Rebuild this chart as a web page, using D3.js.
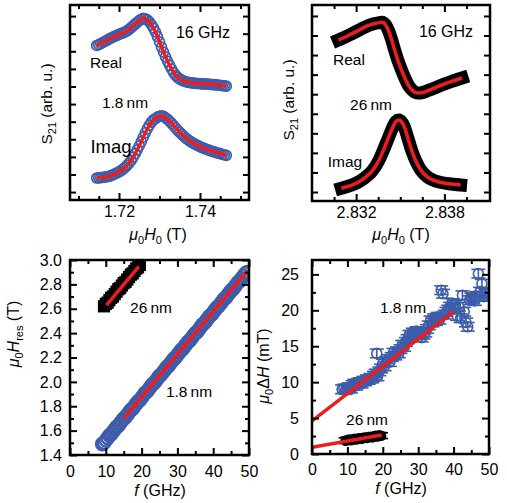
<!DOCTYPE html>
<html>
<head>
<meta charset="utf-8">
<script src="https://cdn.jsdelivr.net/npm/d3@7"></script>
<style>
  body { margin: 0; background: #fff; }
  text { font-family: "Liberation Sans", Arial, Helvetica, sans-serif; fill: #000; }
</style>
</head>
<body>
<svg id="chart" width="507" height="503"></svg>
<script>
// ---- data: top-left, 1.8 nm, S21 vs field at 16 GHz ----
const thinField = [1.7145,1.7150,1.7155,1.7160,1.7165,1.7170,1.7175,1.7180,1.7185,1.7190,
  1.7195,1.7200,1.7205,1.7210,1.7215,1.7220,1.7225,1.7230,1.7235,1.7240,
  1.7245,1.7250,1.7255,1.7260,1.7265,1.7270,1.7275,1.7280,1.7285,1.7290,
  1.7295,1.7300,1.7305,1.7310,1.7315,1.7320,1.7325,1.7330,1.7335,1.7340,
  1.7345,1.7350,1.7355,1.7360,1.7365,1.7370,1.7375,1.7380,1.7385,1.7390,
  1.7395,1.7400,1.7405,1.7410,1.7415,1.7420,1.7425,1.7430,1.7435,1.7440,
  1.7445,1.7450,1.7455,1.7460,1.7465];
const thinReal = [8.33,8.38,8.44,8.50,8.56,8.62,8.69,8.75,8.81,8.86,
  8.91,8.96,9.01,9.05,9.10,9.16,9.24,9.34,9.45,9.55,
  9.65,9.74,9.82,9.87,9.85,9.78,9.67,9.52,9.33,9.10,
  8.83,8.54,8.24,7.95,7.68,7.43,7.20,6.98,6.79,6.63,
  6.51,6.42,6.36,6.31,6.27,6.24,6.22,6.20,6.19,6.18,
  6.17,6.16,6.15,6.15,6.14,6.13,6.12,6.11,6.10,6.09,
  6.08,6.07,6.05,6.04,6.02];
const thinImag = [0.80,0.81,0.82,0.83,0.85,0.87,0.90,0.93,0.98,1.03,
  1.09,1.15,1.22,1.30,1.40,1.52,1.65,1.80,1.98,2.18,
  2.40,2.63,2.87,3.12,3.37,3.60,3.80,3.98,4.10,4.18,
  4.26,4.31,4.33,4.30,4.22,4.13,4.02,3.90,3.77,3.64,
  3.51,3.39,3.28,3.17,3.07,2.98,2.90,2.83,2.76,2.70,
  2.64,2.58,2.53,2.48,2.44,2.40,2.36,2.32,2.28,2.24,
  2.21,2.18,2.15,2.12,2.09];

// ---- data: top-right, 26 nm ----
const thickReField = [2.8308,2.8312,2.8316,2.8320,2.8324,2.8328,2.8332,2.8336,2.8338,2.8340,
  2.8342,2.8344,2.8346,2.8348,2.8350,2.8352,2.8354,2.8356,2.8358,2.8360,
  2.8362,2.8365,2.8370,2.8375,2.8380,2.8385,2.8392];
const thickReal = [7.77,7.90,8.05,8.20,8.36,8.50,8.60,8.66,8.68,8.55,
  8.25,7.82,7.30,6.82,6.40,6.02,5.68,5.40,5.22,5.10,
  5.06,5.08,5.22,5.37,5.52,5.66,5.83];
const thickImField = [2.8310,2.8314,2.8318,2.8322,2.8326,2.8330,2.8333,2.8336,2.8339,2.8342,
  2.8345,2.8347,2.8349,2.8351,2.8353,2.8355,2.8358,2.8361,2.8364,2.8368,
  2.8372,2.8377,2.8383,2.8391];
const thickImag = [0.19,0.28,0.38,0.53,0.74,1.00,1.29,1.70,2.22,2.78,
  3.32,3.60,3.68,3.58,3.28,2.80,2.08,1.52,1.12,0.80,
  0.62,0.50,0.42,0.36];

// ---- data: bottom-left, resonance field vs frequency ----
const hresThinF = [9,9.5,10,10.5,11,11.5,12,12.5,13,13.5,14,14.5,15,15.5,16,16.5,17,17.5,18,18.5,
  19,19.5,20,20.5,21,21.5,22,22.5,23,23.5,24,24.5,25,25.5,26,26.5,27,27.5,28,28.5,
  29,29.5,30,30.5,31,31.5,32,32.5,33,33.5,34,34.5,35,35.5,36,36.5,37,37.5,38,38.5,
  39,39.5,40,40.5,41,41.5,42,42.5,43,43.5,44,44.5,45,45.5,46,46.5,47,47.5,48,48.5,49,49.5];
const hresThin = [1.49,1.50,1.52,1.54,1.56,1.57,1.59,1.61,1.63,1.64,1.66,1.68,1.70,1.71,1.73,1.75,1.77,1.78,1.80,1.82,
  1.84,1.85,1.87,1.89,1.91,1.92,1.94,1.96,1.98,1.99,2.01,2.03,2.05,2.06,2.08,2.10,2.12,2.13,2.15,2.17,
  2.19,2.20,2.22,2.24,2.26,2.27,2.29,2.31,2.33,2.34,2.36,2.38,2.40,2.41,2.43,2.45,2.47,2.48,2.50,2.52,
  2.54,2.55,2.57,2.59,2.61,2.62,2.64,2.66,2.68,2.69,2.71,2.73,2.75,2.76,2.78,2.80,2.82,2.83,2.85,2.87,2.89,2.90];
const hresThickF = [9.5,10,10.5,11,11.5,12,12.5,13,13.5,14,14.5,15,15.5,16,16.5,17,17.5,18,18.5,19,19.5];
const hresThick = [2.62,2.64,2.65,2.67,2.69,2.70,2.72,2.74,2.76,2.77,2.79,2.81,2.82,2.84,2.86,2.88,2.89,2.91,2.93,2.94,2.96];
const hresFitThinF = [15, 49.5];
const hresFitThin = [1.70, 2.91];
const hresFitThickF = [10.2, 19.2];
const hresFitThick = [2.63, 2.945];

// ---- data: bottom-right, linewidth vs frequency ----
const lwThinF = [8.5,9,9.5,10,10.5,11,11.5,12,12.5,13,13.5,14,14.5,15,15.5,16,16.5,17,17.5,18,18.3,18.5,
  19,19.5,20,20.5,21,21.5,22,22.5,23,23.5,24,24.5,25,25.5,26,26.5,27,27.5,28,28.5,29,29.5,30,30.5,
  31,31.5,32,32.5,33,33.5,34,34.5,35,35.5,36,36.5,37,37.5,38,38.5,39,39.5,40,40.5,41,41.5,42,42.5,
  43,43.5,44,44.5,45,45.5,46,46.5,47,47.5,48,48.5,49,49.5,50];
const lwThin = [9.0,9.1,8.9,9.2,9.3,9.1,9.6,9.8,9.5,9.9,10.0,9.8,10.2,10.1,10.4,10.3,10.6,10.5,10.9,11.2,14.0,10.8,
  11.5,11.9,12.6,12.2,12.9,13.2,12.8,13.5,14.1,13.7,14.3,14.0,14.6,15.2,14.9,15.6,16.0,16.6,16.3,16.9,16.5,17.1,16.7,17.0,
  16.2,16.6,16.9,17.4,17.9,18.6,18.3,18.9,18.5,19.1,18.7,22.8,22.3,19.4,19.8,20.1,20.5,21.0,20.3,20.8,19.2,20.5,18.9,22.1,
  19.8,18.3,17.7,21.4,21.8,21.6,21.3,22.0,25.1,22.6,23.7,21.9,22.3,22.0,22.5];
const lwThickF = [9.5,10,10.5,11,11.5,12,12.5,13,13.5,14,14.5,15,15.5,16,16.5,17,17.5,18,18.5,19,19.5];
const lwThick = [1.85,1.95,2.00,1.92,2.05,2.10,2.02,2.15,2.20,2.12,2.25,2.30,2.22,2.35,2.40,2.32,2.45,2.52,2.45,2.60,2.55];
const lwFitThinF = [0, 40];
const lwFitThin = [4.6, 19.8];
const lwFitThickF = [0, 19.7];
const lwFitThick = [0.95, 2.64];

const BLUE = "#3d5dab";
const RED = "#ee1c1c";
const svg = d3.select("#chart");

function makePanel(o) {
  const g = svg.append("g");
  const x = d3.scaleLinear().domain(o.xDomain).range([o.x0, o.x1]);
  const y = d3.scaleLinear().domain(o.yDomain).range([o.y1, o.y0]);
  g.append("clipPath").attr("id", "clip" + o.id)
    .append("rect")
    .attr("x", o.x0).attr("y", o.y0)
    .attr("width", o.x1 - o.x0).attr("height", o.y1 - o.y0);
  const plot = g.append("g").attr("clip-path", `url(#clip${o.id})`);
  return { g, plot, x, y, o };
}

function drawAxes(p) {
  const { g, x, y, o } = p;
  const add = (axis, tx, ty) => {
    const a = g.append("g").attr("transform", `translate(${tx},${ty})`).call(axis);
    a.select(".domain").remove();
    a.selectAll("line").attr("stroke", "#000").attr("stroke-width", 2);
    a.selectAll("text").style("font-size", "16px").style("font-family", null).attr("fill", "#000");
    return a;
  };
  // x ticks: bottom labelled, top mirrored
  add(d3.axisBottom(x).tickValues(o.xMajor).tickSizeInner(-7).tickSizeOuter(0)
    .tickPadding(o.xPad).tickFormat(o.xFmt), 0, o.y1);
  add(d3.axisBottom(x).tickValues(o.xMinor).tickSizeInner(-4).tickSizeOuter(0).tickFormat(""), 0, o.y1);
  add(d3.axisTop(x).tickValues(o.xMajor).tickSizeInner(-7).tickSizeOuter(0).tickFormat(""), 0, o.y0);
  add(d3.axisTop(x).tickValues(o.xMinor).tickSizeInner(-4).tickSizeOuter(0).tickFormat(""), 0, o.y0);
  // y ticks: left labelled when a format is given, right mirrored
  add(d3.axisLeft(y).tickValues(o.yMajor).tickSizeInner(-o.yLen).tickSizeOuter(0)
    .tickPadding(o.yPad || 3).tickFormat(o.yFmt || (() => "")), o.x0, 0);
  add(d3.axisRight(y).tickValues(o.yMajor).tickSizeInner(-o.yLen).tickSizeOuter(0).tickFormat(""), o.x1, 0);
  if (o.yMinor) {
    add(d3.axisLeft(y).tickValues(o.yMinor).tickSizeInner(-4).tickSizeOuter(0).tickFormat(""), o.x0, 0);
    add(d3.axisRight(y).tickValues(o.yMinor).tickSizeInner(-4).tickSizeOuter(0).tickFormat(""), o.x1, 0);
  }
  // frame
  g.append("rect")
    .attr("x", o.x0).attr("y", o.y0)
    .attr("width", o.x1 - o.x0).attr("height", o.y1 - o.y0)
    .attr("fill", "none").attr("stroke", "#000").attr("stroke-width", 2.5);
}

function label(p, txt, cx, base, size) {
  p.g.append("text").attr("x", cx).attr("y", base)
    .attr("text-anchor", "middle").style("font-size", size + "px").text(txt);
}

// x title: μ0H0 (T)
function fieldTitle(p, cx, base) {
  const t = p.g.append("text").attr("x", cx).attr("y", base)
    .attr("text-anchor", "middle").style("font-size", "16px");
  t.append("tspan").style("font-style", "italic").text("μ");
  t.append("tspan").attr("dy", 4).style("font-size", "11px").text("0");
  t.append("tspan").attr("dy", -4).style("font-style", "italic").text("H");
  t.append("tspan").attr("dy", 4).style("font-size", "11px").text("0");
  t.append("tspan").attr("dy", -4).text(" (T)");
}

function freqTitle(p, cx, base) {
  const t = p.g.append("text").attr("x", cx).attr("y", base)
    .attr("text-anchor", "middle").style("font-size", "16px");
  t.append("tspan").style("font-style", "italic").text("f");
  t.append("tspan").text(" (GHz)");
}

function s21Title(p, bx, cy) {
  const t = p.g.append("text").attr("transform", `translate(${bx},${cy}) rotate(-90)`)
    .attr("text-anchor", "middle").style("font-size", "15.5px");
  t.append("tspan").text("S");
  t.append("tspan").attr("dy", 4).style("font-size", "11px").text("21");
  t.append("tspan").attr("dy", -4).text(" (arb. u.)");
}

const line = (p, xs, ys, curve) => d3.line()
  .x((d, i) => p.x(xs[i])).y((d, i) => p.y(ys[i]))
  .curve(curve || d3.curveLinear)(xs);

const ticks = (a, b, s) => d3.range(0, Math.round((b - a) / s) + 1).map(k => +(a + k * s).toFixed(5));

// ================= Panel A (top-left) =================
const pA = makePanel({ id: "A", x0: 70, x1: 249, y0: 5, y1: 200,
  xDomain: [1.7079, 1.7521], yDomain: [-0.45, 10.63],
  xMajor: [1.72, 1.74], xMinor: [1.71, 1.715, 1.725, 1.73, 1.735, 1.745, 1.75],
  xPad: 6, xFmt: d3.format(".2f"), yMajor: ticks(0, 10, 1), yLen: 6 });
[thinReal, thinImag].forEach(vals => {
  pA.plot.append("g").selectAll("circle").data(thinField).enter().append("circle")
    .attr("cx", d => pA.x(d)).attr("cy", (d, i) => pA.y(vals[i]))
    .attr("r", 5).attr("fill", "none").attr("stroke", BLUE).attr("stroke-width", 1.7);
  pA.plot.append("path").attr("d", line(pA, thinField, vals, d3.curveBasis))
    .attr("fill", "none").attr("stroke", RED).attr("stroke-width", 3.5);
});
drawAxes(pA);
s21Title(pA, 52, 104);
fieldTitle(pA, 158, 240);
label(pA, "16 GHz", 203, 38, 16);
label(pA, "Real", 106, 68, 15.5);
label(pA, "1.8\u2009nm", 125, 108, 15.5);
label(pA, "Imag", 111, 153, 18.5);

// ================= Panel B (top-right) =================
const pB = makePanel({ id: "B", x0: 312, x1: 490, y0: 5, y1: 201,
  xDomain: [2.8290, 2.8411], yDomain: [-0.46, 9.56],
  xMajor: [2.832, 2.838], xMinor: [2.8305, 2.8335, 2.835, 2.8365, 2.8395],
  xPad: 6, xFmt: d3.format(".3f"), yMajor: ticks(0, 9, 1), yLen: 6 });
[[thickReField, thickReal], [thickImField, thickImag]].forEach(([xs, ys]) => {
  pB.plot.append("path").attr("d", line(pB, xs, ys, d3.curveCatmullRom))
    .attr("fill", "none").attr("stroke", "#000").attr("stroke-width", 13)
    .attr("stroke-linecap", "square").attr("stroke-linejoin", "round");
  pB.plot.append("path").attr("d", line(pB, xs, ys, d3.curveCatmullRom))
    .attr("fill", "none").attr("stroke", RED).attr("stroke-width", 3.5);
});
drawAxes(pB);
s21Title(pB, 294, 100);
fieldTitle(pB, 401, 240);
label(pB, "16 GHz", 446, 37, 16);
label(pB, "Real", 349, 65, 15.5);
label(pB, "26\u2009nm", 371, 110, 15.5);
label(pB, "Imag", 345, 167, 15.5);

// ================= Panel C (bottom-left) =================
const pC = makePanel({ id: "C", x0: 70, x1: 249, y0: 260, y1: 455,
  xDomain: [0, 50], yDomain: [1.4, 3.0],
  xMajor: ticks(0, 50, 10), xMinor: ticks(5, 45, 10), xPad: 11, xFmt: d3.format("d"),
  yMajor: ticks(1.4, 3.0, 0.2), yMinor: ticks(1.5, 2.9, 0.2), yLen: 7, yPad: 8, yFmt: d3.format(".1f") });
pC.plot.append("g").selectAll("path").data(hresThickF).enter().append("path")
  .attr("transform", (d, i) => `translate(${pC.x(d)},${pC.y(hresThick[i])})`)
  .attr("d", d3.symbol(d3.symbolSquare, 150)).attr("fill", "#000");
pC.plot.append("g").selectAll("circle").data(hresThinF).enter().append("circle")
  .attr("cx", d => pC.x(d)).attr("cy", (d, i) => pC.y(hresThin[i]))
  .attr("r", 6.2).attr("fill", "none").attr("stroke", BLUE).attr("stroke-width", 2.4);
pC.plot.append("path").attr("d", line(pC, hresFitThinF, hresFitThin))
  .attr("fill", "none").attr("stroke", RED).attr("stroke-width", 3.5);
pC.plot.append("path").attr("d", line(pC, hresFitThickF, hresFitThick))
  .attr("fill", "none").attr("stroke", RED).attr("stroke-width", 3.5);
drawAxes(pC);
{
  const t = pC.g.append("text").attr("transform", "translate(19,334) rotate(-90)")
    .attr("text-anchor", "middle").style("font-size", "16px");
  t.append("tspan").style("font-style", "italic").text("μ");
  t.append("tspan").attr("dy", 4).style("font-size", "11px").text("0");
  t.append("tspan").attr("dy", -4).style("font-style", "italic").text("H");
  t.append("tspan").attr("dy", 4).style("font-size", "11px").text("res");
  t.append("tspan").attr("dy", -4).text(" (T)");
}
freqTitle(pC, 160, 496);
label(pC, "26\u2009nm", 151, 313, 15.5);
label(pC, "1.8\u2009nm", 189, 397, 15.5);

// ================= Panel D (bottom-right) =================
const pD = makePanel({ id: "D", x0: 312, x1: 489, y0: 260, y1: 454,
  xDomain: [0, 50], yDomain: [0, 27],
  xMajor: ticks(0, 50, 10), xMinor: ticks(5, 45, 10), xPad: 10, xFmt: d3.format("d"),
  yMajor: ticks(0, 25, 5), yMinor: ticks(2.5, 22.5, 5), yLen: 7, yPad: 13, yFmt: d3.format("d") });
function errMarkers(p, xs, ys, err, color, filled, r) {
  const grp = p.plot.append("g").selectAll("g").data(xs).enter().append("g")
    .attr("stroke", color).attr("stroke-width", 1.6);
  grp.append("line")
    .attr("x1", d => p.x(d)).attr("x2", d => p.x(d))
    .attr("y1", (d, i) => p.y(ys[i] - err)).attr("y2", (d, i) => p.y(ys[i] + err));
  [-err, err].forEach(e => grp.append("line")
    .attr("x1", d => p.x(d) - 7).attr("x2", d => p.x(d) + 7)
    .attr("y1", (d, i) => p.y(ys[i] + e)).attr("y2", (d, i) => p.y(ys[i] + e)));
  grp.append("circle")
    .attr("cx", d => p.x(d)).attr("cy", (d, i) => p.y(ys[i]))
    .attr("r", r).attr("fill", filled ? color : "none");
}
errMarkers(pD, lwThinF, lwThin, 0.6, BLUE, false, 5);
errMarkers(pD, lwThickF, lwThick, 0.4, "#000", true, 4.5);
pD.plot.append("path").attr("d", line(pD, lwFitThinF, lwFitThin))
  .attr("fill", "none").attr("stroke", RED).attr("stroke-width", 3.5);
pD.plot.append("path").attr("d", line(pD, lwFitThickF, lwFitThick))
  .attr("fill", "none").attr("stroke", RED).attr("stroke-width", 3.5);
drawAxes(pD);
{
  const t = pD.g.append("text").attr("transform", "translate(269,366) rotate(-90)")
    .attr("text-anchor", "middle").style("font-size", "16px");
  t.append("tspan").style("font-style", "italic").text("μ");
  t.append("tspan").attr("dy", 4).style("font-size", "11px").text("0");
  t.append("tspan").attr("dy", -4).text("Δ");
  t.append("tspan").style("font-style", "italic").text("H");
  t.append("tspan").text(" (mT)");
}
freqTitle(pD, 401, 494);
label(pD, "1.8\u2009nm", 403, 313, 15.5);
label(pD, "26\u2009nm", 367, 425, 15.5);
</script>
</body>
</html>
